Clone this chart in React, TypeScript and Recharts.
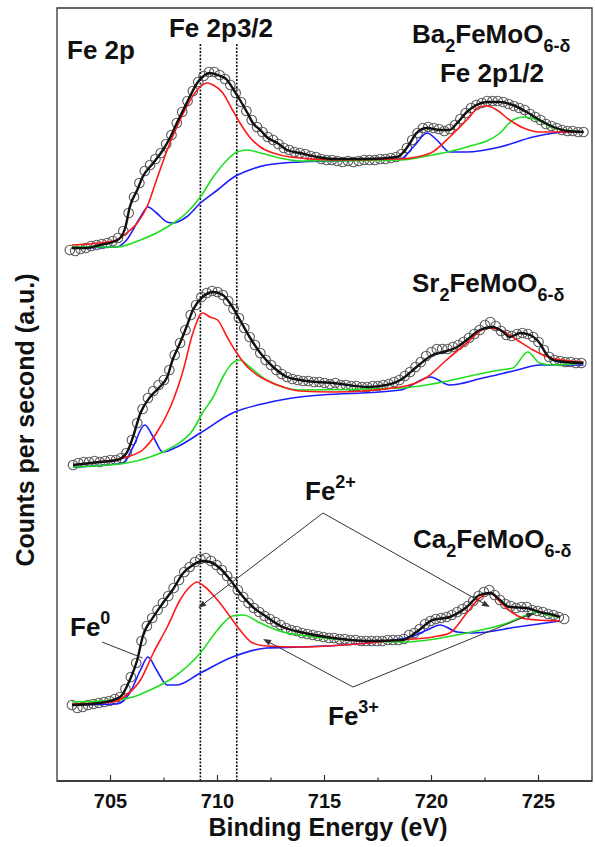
import {
  ComposedChart,
  Line,
  Scatter,
  XAxis,
  YAxis,
  ReferenceLine,
  ReferenceArea,
} from "recharts";

const X_MIN = 702.5;
const X_MAX = 727.5;
const Y_MAX = 773;

const ticks = [705, 707.5, 710, 712.5, 715, 717.5, 720, 722.5, 725];
const majorTicks = [705, 710, 715, 720, 725];
const peakLines = [709.2, 710.9];

// Ba2FeMoO6-d (top spectrum)
const baStart = 703.1;
const baCounts = [
  531, 530, 532, 533, 535, 536, 537, 538, 540, 543,
  550, 568, 584, 598, 610, 616, 622, 628, 637, 646,
  658, 669, 680, 690, 699, 705, 709, 709, 706, 702,
  696, 688, 679, 670, 661, 654, 649, 644, 641, 637,
  633, 631, 629, 628, 627, 625, 624, 622, 621, 621,
  620, 619, 620, 619, 620, 621, 621, 621, 622, 622,
  623, 624, 627, 633, 641, 648, 653, 654, 653, 652,
  650, 652, 656, 662, 668, 673, 676, 678, 680, 680,
  680, 679, 677, 675, 673, 671, 667, 664, 661, 657,
  655, 653, 651, 650, 650, 649, 649,
];
const baFit = [
  [703.2, 533], [703.9, 533], [704.5, 536], [705.1, 539], [705.45, 543], [705.7, 554],
  [705.9, 574], [706.25, 591], [706.5, 604], [707.0, 618], [707.45, 631], [707.8, 644],
  [708.1, 658], [708.4, 671], [708.7, 684], [709.05, 698], [709.3, 704], [709.65, 708],
  [710.0, 706], [710.45, 701], [710.7, 693], [711.05, 681], [711.4, 668], [711.65, 658],
  [712.0, 651], [712.3, 644], [712.8, 638], [713.25, 631], [713.85, 628], [714.65, 624],
  [715.4, 622], [717.0, 622], [718.4, 624], [718.65, 628], [719.0, 638], [719.3, 648],
  [719.8, 653], [720.4, 651], [720.85, 651], [721.2, 658], [721.65, 669], [722.1, 676],
  [722.6, 679], [723.2, 679], [723.8, 676], [724.45, 669], [725.05, 661], [725.7, 654],
  [726.35, 650], [727.1, 649],
];
const baRed = [
  [703.2, 536], [704.5, 538], [705.3, 541], [705.75, 548], [706.25, 558], [706.7, 574],
  [707.15, 601], [707.65, 631], [708.1, 654], [708.55, 674], [709.05, 691], [709.5, 698],
  [709.8, 696], [710.25, 688], [710.7, 671], [711.05, 658], [711.5, 644], [712.0, 634],
  [712.6, 628], [713.4, 624], [715.4, 621], [718.55, 622], [719.3, 624], [720.05, 629],
  [720.85, 644], [721.65, 661], [722.25, 674], [722.6, 675], [723.05, 671], [723.65, 661],
  [724.3, 653], [725.05, 649], [727.1, 649],
];
const baGreen = [
  [703.2, 534], [705.3, 534], [706.4, 541], [707.65, 554], [708.55, 568], [709.2, 584],
  [709.8, 604], [710.45, 621], [710.9, 629], [711.4, 631], [712.0, 628], [712.9, 623],
  [713.85, 620], [718.55, 621], [720.05, 626], [721.65, 634], [723.2, 648], [723.8, 661],
  [724.3, 664], [724.95, 661], [725.7, 653], [727.1, 649],
];
const baBlue = [
  [703.2, 533], [705.3, 534], [705.75, 541], [706.4, 564], [706.75, 574], [707.15, 568],
  [707.65, 559], [707.9, 558], [708.55, 564], [709.2, 578], [710.0, 591], [710.7, 603],
  [711.5, 611], [712.3, 616], [713.85, 619], [718.55, 622], [719.15, 634], [719.8, 648],
  [720.25, 641], [720.85, 629], [721.65, 629], [723.2, 634], [724.75, 644], [726.35, 649],
  [727.1, 649],
];

// Sr2FeMoO6-d (middle spectrum)
const srStart = 703.25;
const srCounts = [
  316, 318, 319, 319, 320, 319, 320, 321, 321, 323,
  328, 341, 358, 372, 383, 390, 396, 401, 411, 426,
  438, 451, 466, 476, 484, 488, 490, 489, 486, 480,
  472, 463, 453, 444, 436, 428, 421, 416, 411, 407,
  404, 402, 401, 400, 400, 399, 399, 398, 397, 398,
  396, 396, 395, 395, 394, 394, 395, 395, 396, 397,
  399, 401, 405, 409, 414, 419, 425, 429, 432, 432,
  432, 434, 436, 439, 443, 447, 451, 456, 459, 455,
  450, 446, 445, 447, 448, 447, 444, 439, 431, 424,
  421, 420, 419, 419, 418, 418,
];
const srFit = [
  [703.25, 316], [704.5, 319], [705.3, 321], [705.75, 328], [706.05, 344], [706.4, 368],
  [706.85, 384], [707.3, 394], [707.65, 404], [707.9, 421], [708.25, 438], [708.55, 454],
  [708.85, 471], [709.3, 484], [709.8, 489], [710.25, 486], [710.7, 474], [711.05, 461],
  [711.5, 444], [712.0, 428], [712.6, 414], [713.25, 404], [713.85, 401], [714.65, 399],
  [715.4, 398], [717.0, 394], [717.9, 396], [718.55, 401], [719.3, 414], [720.05, 426],
  [720.55, 429], [721.2, 434], [721.65, 441], [722.25, 451], [722.85, 454], [723.35, 449],
  [723.65, 444], [724.15, 448], [724.6, 446], [725.05, 438], [725.4, 426], [725.85, 420],
  [727.1, 418],
];
const srRed = [
  [703.25, 316], [704.5, 319], [705.75, 324], [706.5, 331], [707.15, 348], [707.8, 374],
  [708.4, 411], [708.85, 448], [709.3, 468], [709.65, 464], [710.0, 461], [710.45, 444],
  [710.9, 428], [711.4, 414], [712.0, 404], [712.8, 396], [713.85, 390], [715.4, 389],
  [718.55, 394], [719.8, 404], [720.7, 421], [721.65, 438], [722.6, 453], [723.2, 451],
  [724.0, 441], [724.75, 431], [725.55, 423], [727.1, 419],
];
const srGreen = [
  [703.25, 314], [705.75, 318], [706.85, 324], [707.9, 334], [708.85, 351], [709.3, 368],
  [709.8, 384], [710.25, 404], [710.7, 418], [711.05, 421], [711.5, 414], [712.3, 401],
  [713.05, 394], [713.85, 391], [718.55, 393], [723.2, 411], [723.8, 413], [724.5, 429],
  [725.05, 418], [725.7, 416], [727.1, 418],
];
const srBlue = [
  [703.25, 314], [705.6, 318], [706.05, 334], [706.6, 356], [707.0, 344], [707.45, 329],
  [708.1, 334], [709.2, 348], [710.7, 368], [712.3, 378], [713.85, 384], [718.55, 391],
  [719.95, 404], [720.85, 396], [722.4, 403], [724.0, 411], [725.05, 416], [727.1, 416],
];

// Ca2FeMoO6-d (bottom spectrum)
const caStart = 703.2;
const caCounts = [
  76, 73, 74, 76, 77, 78, 79, 80, 82, 84,
  92, 104, 118, 140, 155, 163, 171, 178, 185, 193,
  201, 209, 214, 219, 222, 223, 220, 216, 211, 205,
  199, 191, 184, 178, 173, 169, 165, 162, 159, 156,
  153, 151, 150, 148, 147, 146, 145, 144, 143, 143,
  142, 142, 141, 141, 140, 140, 140, 140, 140, 141,
  141, 141, 142, 146, 148, 152, 157, 160, 162, 163,
  164, 166, 169, 172, 175, 180, 185, 189, 191, 186,
  181, 177, 175, 173, 174, 174, 171, 170, 169, 167,
  166, 164, 162,
];
const caFit = [
  [703.2, 76], [704.5, 78], [705.45, 84], [705.9, 101], [706.25, 121], [706.5, 144],
  [707.0, 164], [707.45, 178], [707.9, 191], [708.4, 208], [708.85, 216], [709.3, 220],
  [709.65, 219], [710.1, 213], [710.6, 201], [711.05, 188], [711.65, 174], [712.3, 164],
  [713.05, 154], [713.85, 149], [715.4, 143], [717.0, 140], [718.65, 141], [719.3, 149],
  [720.05, 161], [720.85, 164], [721.65, 174], [722.25, 186], [722.75, 188], [723.2, 181],
  [723.65, 174], [724.45, 173], [725.05, 169], [725.7, 166], [726.0, 164],
];
const caRed = [
  [703.2, 77], [705.1, 79], [705.75, 86], [706.4, 101], [707.0, 128], [707.65, 154],
  [708.25, 181], [708.7, 194], [709.05, 199], [709.3, 196], [710.0, 181], [710.6, 164],
  [711.05, 151], [711.65, 138], [712.3, 135], [713.85, 134], [718.55, 141], [720.05, 144],
  [720.85, 148], [721.65, 168], [722.25, 183], [722.75, 188], [723.2, 179], [723.8, 168],
  [724.45, 162], [726.0, 160],
];
const caGreen = [
  [703.2, 79], [705.3, 81], [706.05, 84], [706.85, 91], [707.9, 103], [709.2, 128],
  [710.0, 151], [710.7, 165], [711.2, 166], [712.0, 158], [713.05, 149], [713.85, 146],
  [715.4, 142], [718.55, 139], [721.65, 148], [723.55, 158], [724.45, 166], [724.95, 169],
  [725.4, 166], [726.0, 164],
];
const caBlue = [
  [703.2, 76], [705.3, 77], [705.9, 88], [706.4, 111], [706.75, 124], [707.15, 111],
  [707.65, 96], [708.1, 96], [709.2, 108], [710.7, 124], [712.3, 133], [713.85, 134],
  [717.0, 138], [719.0, 144], [719.8, 151], [720.4, 156], [721.2, 149], [721.95, 148],
  [724.0, 154], [726.0, 160],
];

// annotation arrows (energy, counts)
const arrows = [
  { from: [714.93, 268], to: [709.1, 173], head: true },
  { from: [714.93, 268], to: [722.73, 174], head: true },
  { from: [716.33, 94], to: [712.13, 142], head: true },
  { from: [716.33, 94], to: [724.8, 168], head: true },
  { from: [704.6, 139], to: [706.5, 123], head: false },
];

const FONT = "'Liberation Sans', Arial, Helvetica, sans-serif";

const toPts = (rows: number[][]) => rows.map(([e, v]) => ({ e, v }));
const toScan = (start: number, counts: number[]) =>
  counts.map((v, i) => ({ e: +(start + i * 0.25).toFixed(2), v }));

const spectra = [
  { counts: toScan(baStart, baCounts), fit: baFit, red: baRed, green: baGreen, blue: baBlue },
  { counts: toScan(srStart, srCounts), fit: srFit, red: srRed, green: srGreen, blue: srBlue },
  { counts: toScan(caStart, caCounts), fit: caFit, red: caRed, green: caGreen, blue: caBlue },
];

const OpenCircle = (p: any) => (
  <circle cx={p.cx} cy={p.cy} r={4.8} fill="none" stroke="#5a5a5a" strokeWidth={1.1} />
);

const makeArrow = (head: boolean) => (p: any) => {
  const { x1, y1, x2, y2 } = p;
  const dx = x2 - x1;
  const dy = y2 - y1;
  const len = Math.hypot(dx, dy) || 1;
  const ux = dx / len;
  const uy = dy / len;
  const hl = 8;
  const hw = 3;
  const bx = x2 - ux * hl;
  const by = y2 - uy * hl;
  return (
    <g>
      <line x1={x1} y1={y1} x2={head ? bx : x2} y2={head ? by : y2} stroke="#333" strokeWidth={1} />
      {head && (
        <polygon
          points={`${x2},${y2} ${bx - uy * hw},${by + ux * hw} ${bx + uy * hw},${by - ux * hw}`}
          fill="#333"
        />
      )}
    </g>
  );
};

const EnergyTick = (p: any) => {
  const { x, y, payload } = p;
  const major = majorTicks.includes(payload.value);
  return (
    <g>
      <line x1={x} x2={x} y1={y} y2={y - (major ? 6 : 3.5)} stroke="#333" strokeWidth={1.2} />
      {major && (
        <text x={x} y={y + 27} textAnchor="middle" fontFamily={FONT} fontWeight="bold" fontSize={20} fill="#111">
          {payload.value}
        </text>
      )}
    </g>
  );
};

function Formula({ x, y, base }: { x: number; y: number; base: string }) {
  return (
    <text x={x} y={y} fontFamily={FONT} fontWeight="bold" fontSize={26} fill="#111">
      {base}
      <tspan fontSize={18} dy={9}>2</tspan>
      <tspan dy={-9}>FeMoO</tspan>
      <tspan fontSize={18} dy={9}>6-δ</tspan>
    </text>
  );
}

function Ion({ x, y, sup }: { x: number; y: number; sup: string }) {
  return (
    <text x={x} y={y} fontFamily={FONT} fontWeight="bold" fontSize={26} fill="#111">
      Fe
      <tspan fontSize={18} dy={-12}>{sup}</tspan>
    </text>
  );
}

export default function App() {
  const t = { fontFamily: FONT, fontWeight: "bold", fontSize: 26, fill: "#111" } as const;
  return (
    <div style={{ position: "absolute", left: 0, top: 0, width: 595, height: 847, background: "#fff" }}>
      <ComposedChart width={595} height={847} margin={{ top: 8, right: 3, left: 57, bottom: 0 }}>
        <XAxis
          type="number"
          dataKey="e"
          domain={[X_MIN, X_MAX]}
          allowDataOverflow
          ticks={ticks}
          interval={0}
          height={66}
          tickLine={false}
          tickSize={0}
          tickMargin={0}
          axisLine={{ stroke: "#333", strokeWidth: 1.3 }}
          tick={<EnergyTick />}
        />
        <YAxis type="number" dataKey="v" domain={[0, Y_MAX]} hide allowDataOverflow />
        <ReferenceArea x1={X_MIN} x2={X_MAX} y1={0} y2={Y_MAX} fill="none" stroke="#333" strokeWidth={1.3} />
        {peakLines.map((e) => (
          <ReferenceLine
            key={e}
            segment={[{ x: e, y: 0 }, { x: e, y: 738 }]}
            stroke="#111"
            strokeWidth={1.6}
            strokeDasharray="2 1.5"
          />
        ))}
        {spectra.map((s, i) => (
          <Scatter
            key={`c${i}`}
            data={s.counts}
            dataKey="v"
            shape={<OpenCircle />}
            zIndex={350}
            isAnimationActive={false}
          />
        ))}
        {spectra.map((s, i) => [
          <Line key={`b${i}`} data={toPts(s.blue)} dataKey="v" type="monotone" stroke="#1c1cff" strokeWidth={1.6} dot={false} isAnimationActive={false} />,
          <Line key={`g${i}`} data={toPts(s.green)} dataKey="v" type="monotone" stroke="#1ee01e" strokeWidth={1.6} dot={false} isAnimationActive={false} />,
          <Line key={`r${i}`} data={toPts(s.red)} dataKey="v" type="monotone" stroke="#ff1a1a" strokeWidth={1.6} dot={false} isAnimationActive={false} />,
          <Line key={`k${i}`} data={toPts(s.fit)} dataKey="v" type="monotone" stroke="#111" strokeWidth={2.4} dot={false} isAnimationActive={false} />,
        ])}
        {arrows.map((a, i) => (
          <ReferenceLine
            key={`a${i}`}
            segment={[{ x: a.from[0], y: a.from[1] }, { x: a.to[0], y: a.to[1] }]}
            shape={makeArrow(a.head)}
          />
        ))}
      </ComposedChart>
      <svg
        width={595}
        height={847}
        style={{ position: "absolute", left: 0, top: 0, pointerEvents: "none" }}
      >
        <text x={67} y={59} {...t}>Fe 2p</text>
        <text x={221} y={37} textAnchor="middle" {...t}>Fe 2p3/2</text>
        <Formula x={412} y={43} base="Ba" />
        <text x={492} y={82} textAnchor="middle" {...t}>Fe 2p1/2</text>
        <Formula x={412} y={292} base="Sr" />
        <Formula x={413} y={548} base="Ca" />
        <Ion x={305} y={500} sup="2+" />
        <Ion x={328} y={725} sup="3+" />
        <Ion x={70} y={636} sup="0" />
        <text
          transform="translate(34,420) rotate(-90)"
          textAnchor="middle"
          fontFamily={FONT}
          fontWeight="bold"
          fontSize={25}
          fill="#111"
        >
          Counts per second (a.u.)
        </text>
        <text x={328} y={836} textAnchor="middle" fontFamily={FONT} fontWeight="bold" fontSize={25} fill="#111">
          Binding Energy (eV)
        </text>
      </svg>
    </div>
  );
}
